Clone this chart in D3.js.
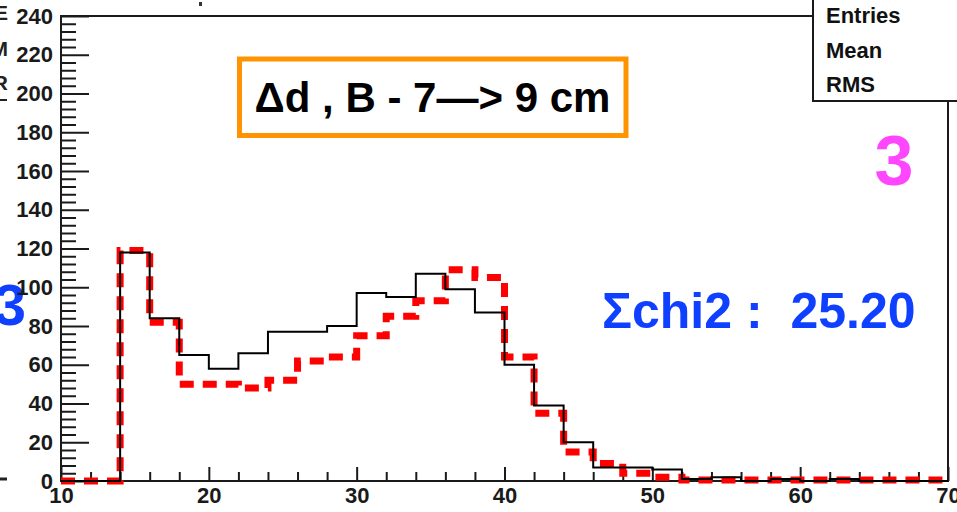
<!DOCTYPE html>
<html>
<head>
<meta charset="utf-8">
<script src="https://cdn.jsdelivr.net/npm/d3@7"></script>
<style>
  body { margin: 0; background: #fff; }
  svg { display: block; font-family: "Liberation Sans", Arial, sans-serif; }
</style>
</head>
<body>
<svg id="chart" width="957" height="512"></svg>
<script>
// bin lower edges (bin width 2 cm)
const binStarts = [10, 12, 14, 16, 18, 20, 22, 24, 26, 28, 30, 32, 34, 36, 38,
                   40, 42, 44, 46, 48, 50, 52, 54, 56, 58, 60, 62, 64, 66, 68];
const binEnd = 70;

// black solid histogram
const blackCounts = [0, 0, 118, 84, 65, 58, 66, 77, 77, 80, 97, 95, 107, 99, 87,
                     60, 39, 20, 7, 7, 6, 1, 2, 0, 1, 0, 1, 0, 0, 0];
// red dashed histogram
const redCounts = [0, 0, 119, 82, 50, 50, 48, 52, 62, 64, 75, 85, 93, 109, 105,
                   64, 35, 15, 9, 4, 2, 0.5, 0.5, 0.5, 0.5, 0.5, 0.5, 0.5, 0.5, 0.5];

const xTickLabels = [10, 20, 30, 40, 50, 60, 70];
const yTickLabels = [0, 20, 40, 60, 80, 100, 120, 140, 160, 180, 200, 220, 240];
const statsLabels = ["Entries", "Mean", "RMS"];

const svg = d3.select("#chart");

const x = d3.scaleLinear().domain([10, 70]).range([61, 948]);
const y = d3.scaleLinear().domain([0, 240]).range([481, 16]);

// neighbouring panel fragments on the left edge
svg.selectAll(".frag")
  .data([["E", 20], ["M", 56], ["R", 90]])
  .enter().append("text")
  .attr("x", 8).attr("y", d => d[1])
  .attr("text-anchor", "end")
  .attr("font-size", 21).attr("font-weight", "bold")
  .attr("fill", "#222")
  .text(d => d[0]);
svg.append("line").attr("x1", 0).attr("x2", 7).attr("y1", 100).attr("y2", 100)
  .attr("stroke", "#222").attr("stroke-width", 2);
svg.append("line").attr("x1", 0).attr("x2", 7).attr("y1", 479).attr("y2", 479)
  .attr("stroke", "#222").attr("stroke-width", 3);
svg.append("rect").attr("x", 199).attr("y", 2).attr("width", 3).attr("height", 4).attr("fill", "#333");
svg.append("text")
  .attr("x", 26).attr("y", 325)
  .attr("text-anchor", "end")
  .attr("font-size", 58).attr("font-weight", "bold")
  .attr("fill", "#1040ff")
  .text("3");

// frame
svg.append("rect")
  .attr("x", x(10)).attr("y", y(240))
  .attr("width", x(70) - x(10)).attr("height", y(0) - y(240))
  .attr("fill", "none").attr("stroke", "#1a1a1a").attr("stroke-width", 2);

// y axis: ticks pointing inwards, labels on the left
const yMinor = d3.range(0, 241, 4).filter(v => v % 20 !== 0);
svg.append("g")
  .attr("transform", `translate(${x(10)},0)`)
  .call(d3.axisRight(y).tickValues(yMinor).tickSize(15).tickFormat(""))
  .call(g => g.select(".domain").remove())
  .call(g => g.selectAll("line").attr("stroke", "#1a1a1a").attr("stroke-width", 2));
svg.append("g")
  .attr("transform", `translate(${x(10)},0)`)
  .call(d3.axisLeft(y).tickValues(yTickLabels).tickSize(-28).tickPadding(8))
  .call(g => g.select(".domain").remove())
  .call(g => g.selectAll("line").attr("stroke", "#1a1a1a").attr("stroke-width", 2))
  .call(g => g.selectAll("text")
    .attr("font-family", "Liberation Sans, Arial, sans-serif")
    .attr("font-size", 22).attr("font-weight", "bold").attr("fill", "#1a1a1a"));

// x axis: ticks pointing up, labels below
const xMinor = d3.range(10, 71, 2).filter(v => v % 10 !== 0);
svg.append("g")
  .attr("transform", `translate(0,${y(0)})`)
  .call(d3.axisTop(x).tickValues(xMinor).tickSize(9).tickFormat(""))
  .call(g => g.select(".domain").remove())
  .call(g => g.selectAll("line").attr("stroke", "#1a1a1a").attr("stroke-width", 2));
svg.append("g")
  .attr("transform", `translate(0,${y(0)})`)
  .call(d3.axisBottom(x).tickValues(xTickLabels).tickSize(-14).tickPadding(6))
  .call(g => g.select(".domain").remove())
  .call(g => g.selectAll("line").attr("stroke", "#1a1a1a").attr("stroke-width", 2))
  .call(g => g.selectAll("text")
    .attr("font-family", "Liberation Sans, Arial, sans-serif")
    .attr("font-size", 22).attr("font-weight", "bold").attr("fill", "#1a1a1a"));

// histogram outlines as step lines
function stepPoints(counts) {
  const pts = binStarts.map((b, i) => [b, counts[i]]);
  pts.push([binEnd, counts[counts.length - 1]]);
  return pts;
}
const step = d3.line()
  .x(d => x(d[0]))
  .y(d => y(d[1]))
  .curve(d3.curveStepAfter);

svg.append("path")
  .attr("d", step(stepPoints(redCounts)))
  .attr("fill", "none")
  .attr("stroke", "#ff0000")
  .attr("stroke-width", 7)
  .attr("stroke-dasharray", "14 9");

svg.append("path")
  .attr("d", step(stepPoints(blackCounts)))
  .attr("fill", "none")
  .attr("stroke", "#000")
  .attr("stroke-width", 2);

// stats box (cut off at the top right)
svg.append("rect")
  .attr("x", 813).attr("y", -10).attr("width", 200).attr("height", 111)
  .attr("fill", "#fff").attr("stroke", "#1a1a1a").attr("stroke-width", 2);
svg.selectAll(".stat")
  .data(statsLabels)
  .enter().append("text")
  .attr("class", "stat")
  .attr("x", 826)
  .attr("y", (d, i) => [23, 58, 92][i])
  .attr("font-size", 22).attr("font-weight", "bold").attr("fill", "#111")
  .text(d => d);

// title box
svg.append("rect")
  .attr("x", 239.5).attr("y", 59).attr("width", 386.5).attr("height", 76.5)
  .attr("fill", "#fff").attr("stroke", "#ff9300").attr("stroke-width", 5);
svg.append("text")
  .attr("x", 432.5).attr("y", 112)
  .attr("text-anchor", "middle")
  .attr("font-size", 42).attr("font-weight", "bold").attr("fill", "#000")
  .text("\u0394d , B - 7\u2014> 9 cm");

// annotations
svg.append("text")
  .attr("x", 894).attr("y", 185)
  .attr("text-anchor", "middle")
  .attr("font-size", 70).attr("font-weight", "bold").attr("fill", "#ff46ff")
  .text("3");

svg.append("text")
  .attr("x", 602).attr("y", 328)
  .attr("font-size", 50).attr("font-weight", "bold").attr("fill", "#1040ff")
  .style("white-space", "pre")
  .text("\u03a3chi2 :  25.20");
</script>
</body>
</html>
